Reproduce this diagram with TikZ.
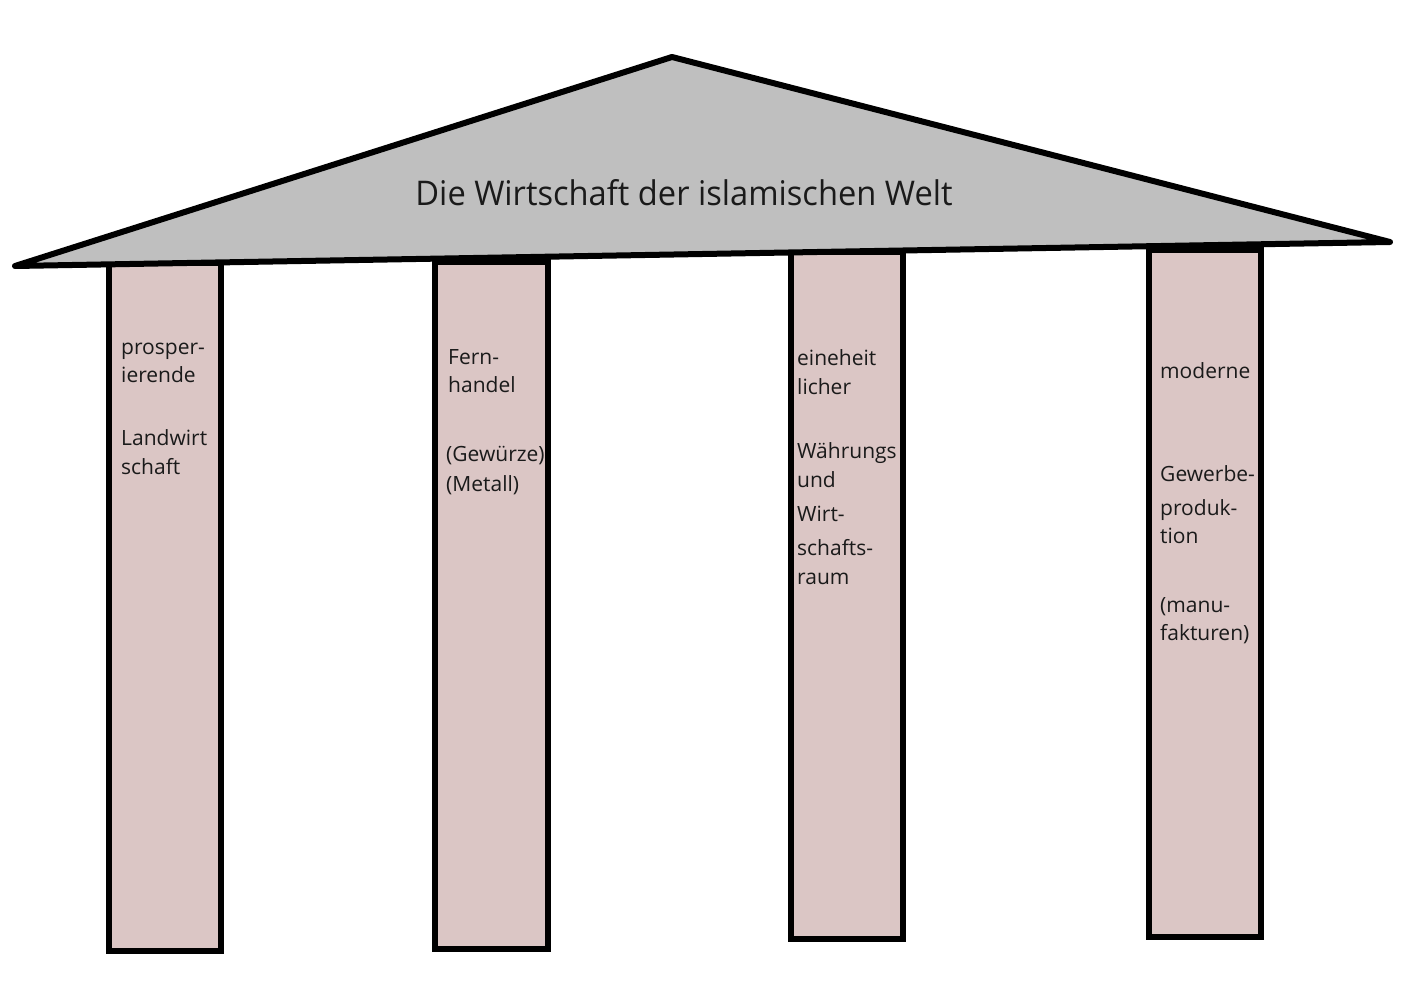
\documentclass[tikz,border=0pt]{standalone}
\usepackage{fontspec}
\setmainfont{Open Sans}
\usepackage{xcolor}
\definecolor{roofgray}{HTML}{BFBFBF}
\definecolor{pillarrose}{HTML}{DBC6C5}
\definecolor{inkgray}{HTML}{1A1A1A}

\begin{document}
\begin{tikzpicture}[x=1pt, y=-1pt,
  pillar/.style={draw=black, fill=pillarrose, line width=5.5},
  roof/.style={draw=black, fill=roofgray, line width=6, line join=round},
  lbl/.style={anchor=base west, inner sep=0, text=inkgray, font=\fontsize{21}{25}\selectfont},
  titlelbl/.style={anchor=base, inner sep=0, text=inkgray, font=\fontsize{34}{40}\selectfont}]

\useasboundingbox[fill=white] (0,0) rectangle (1416,992);

% pillars %
\draw[pillar] (109,263) rectangle (221,951);
\draw[pillar] (435,262) rectangle (548,949);
\draw[pillar] (791,252) rectangle (903,939);
\draw[pillar] (1149,250) rectangle (1261,937);

% roof %
\coordinate (tl) at (15,266);
\coordinate (tt) at (672,57);
\coordinate (tr) at (1390,242);
\draw[roof] (tl) -- (tt) -- (tr) -- cycle;
\node[titlelbl, xscale=0.96] (title) at (684,206) {Die Wirtschaft der islamischen Welt};

% pillar 1 %
\node[lbl] (p1a) at (121,354) {prosper-};
\node[lbl] (p1b) at (121,382) {ierende};
\node[lbl] (p1c) at (121,445) {Landwirt};
\node[lbl] (p1d) at (121,474) {schaft};

% pillar 2 %
\node[lbl] (p2a) at (448,364) {Fern-};
\node[lbl] (p2b) at (448,392) {handel};
\node[lbl] (p2c) at (446,461) {(Gewürze)};
\node[lbl] (p2d) at (446,491) {(Metall)};

% pillar 3 %
\node[lbl] (p3a) at (797,365) {eineheit};
\node[lbl] (p3b) at (797,394) {licher};
\node[lbl] (p3c) at (797,458) {Währungs};
\node[lbl] (p3d) at (797,487) {und};
\node[lbl] (p3e) at (797,521) {Wirt-};
\node[lbl] (p3f) at (797,555) {schafts-};
\node[lbl] (p3g) at (797,584) {raum};

% pillar 4 %
\node[lbl] (p4a) at (1160,378) {moderne};
\node[lbl] (p4b) at (1160,481) {Gewerbe-};
\node[lbl] (p4c) at (1160,515) {produk-};
\node[lbl] (p4d) at (1160,543) {tion};
\node[lbl] (p4e) at (1160,612) {(manu-};
\node[lbl] (p4f) at (1160,640) {fakturen)};

\end{tikzpicture}
\end{document}
